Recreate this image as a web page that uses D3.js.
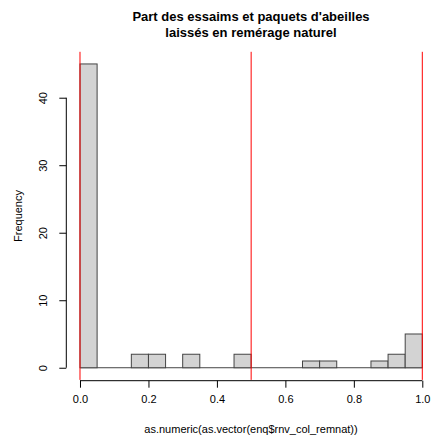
<!DOCTYPE html>
<html><head><meta charset="utf-8">
<script src="https://cdn.jsdelivr.net/npm/d3@7"></script>
<style>body{margin:0;background:#fff}svg{display:block;font-family:"Liberation Sans",Arial,sans-serif}</style>
</head><body>
<svg id="c" width="437" height="439"></svg>
<script>
const binStarts = [0,0.05,0.1,0.15,0.2,0.25,0.3,0.35,0.4,0.45,0.5,0.55,0.6,0.65,0.7,0.75,0.8,0.85,0.9,0.95];
const counts    = [45,0,0,2,2,0,2,0,0,2,0,0,0,1,1,0,0,1,2,5];
const binWidth = 0.05;
const xTicks = [0,0.2,0.4,0.6,0.8,1.0];
const yTicks = [0,10,20,30,40];
const redLines = [0,0.5,1];
const titleLines = ["Part des essaims et paquets d'abeilles","laissés en remérage naturel"];
const xLabel = "as.numeric(as.vector(enq$rnv_col_remnat))";
const yLabel = "Frequency";

const svg = d3.select("#c");
const x = d3.scaleLinear().domain([-0.04,1.04]).range([66.3,436]);
const y = d3.scaleLinear().domain([-1.8,46.8]).range([379.9,51.8]);

// baseline for zero-height bins
svg.append("line").attr("x1",x(binStarts[0])).attr("x2",x(binStarts[binStarts.length-1]+binWidth))
  .attr("y1",y(0)).attr("y2",y(0)).attr("stroke","#444").attr("stroke-width",1);

// bars
svg.append("g").selectAll("rect").data(binStarts.map((s,i)=>({s,c:counts[i]})).filter(d=>d.c>0)).join("rect")
  .attr("x",d=>x(d.s)).attr("width",d=>x(d.s+binWidth)-x(d.s))
  .attr("y",d=>y(d.c)).attr("height",d=>y(0)-y(d.c))
  .attr("fill","#d3d3d3").attr("stroke","#444").attr("stroke-width",1);

// red lines
svg.append("g").selectAll("line").data(redLines).join("line")
  .attr("x1",d=>x(d)).attr("x2",d=>x(d)).attr("y1",y(46.8)).attr("y2",y(-1.8))
  .attr("stroke","#ff0000").attr("stroke-width",1);

// x axis
const xa = svg.append("g").attr("transform","translate(0,380.7)")
  .call(d3.axisBottom(x).tickValues(xTicks).tickFormat(d3.format(".1f")).tickSize(7).tickPadding(8));
xa.select(".domain").attr("d",`M${x(0)},0H${x(1)}`).attr("stroke","#000");
xa.selectAll("text").attr("font-size",11).attr("fill","#000").attr("font-family","Liberation Sans, Arial, sans-serif");

// y axis
const ya = svg.append("g").attr("transform","translate(66.3,0)")
  .call(d3.axisLeft(y).tickValues(yTicks).tickSize(7).tickPadding(0));
ya.select(".domain").attr("d",`M0,${y(0)}V${y(40)}`).attr("stroke","#000");
ya.selectAll("text").attr("font-size",11).attr("fill","#000").attr("font-family","Liberation Sans, Arial, sans-serif")
  .attr("text-anchor","middle").attr("dy",null)
  .attr("transform",function(){return `translate(-23,0) rotate(-90)`;}).attr("x",0).attr("y",0)
  .attr("dominant-baseline","central");

// titles
svg.append("g").selectAll("text").data(titleLines).join("text")
  .attr("x",251).attr("y",(d,i)=>21+i*16).attr("text-anchor","middle")
  .attr("font-weight","bold").attr("font-size",13).text(d=>d);
svg.append("text").attr("x",251).attr("y",433).attr("text-anchor","middle").attr("font-size",11).text(xLabel);
svg.append("text").attr("transform",`translate(22,216) rotate(-90)`).attr("text-anchor","middle").attr("font-size",11).text(yLabel);
</script>
</body></html>
